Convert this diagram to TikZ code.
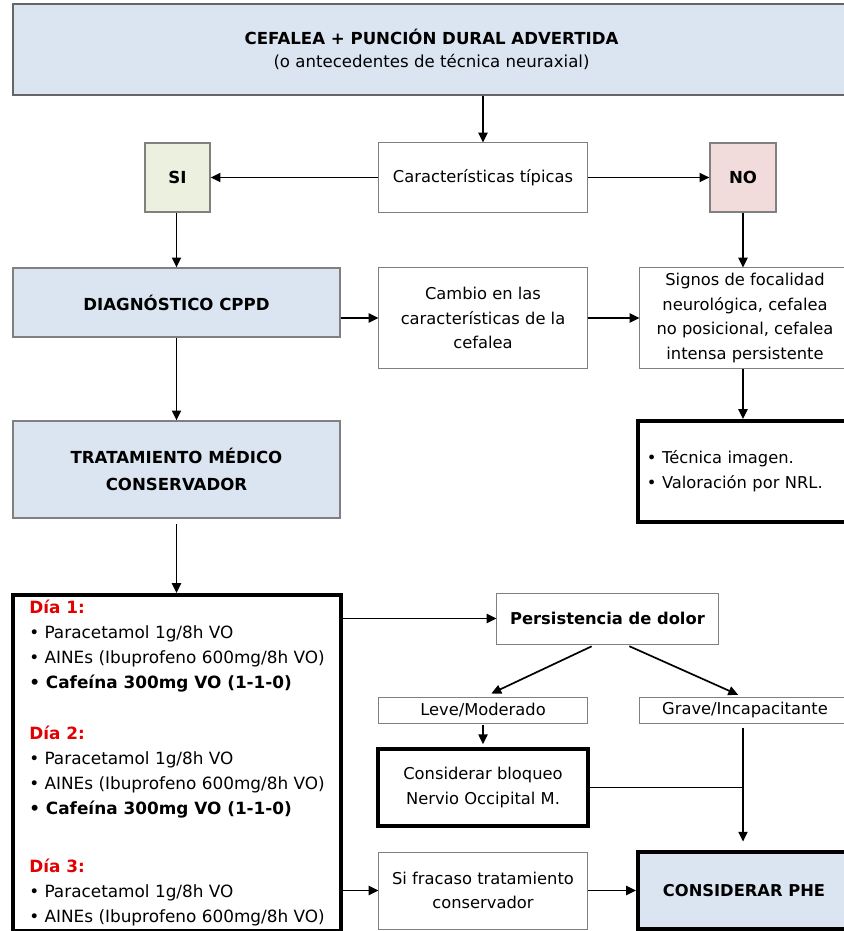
\documentclass[tikz,border=0pt]{standalone}
\usepackage{fontspec}
\setmainfont{DejaVu Sans}
\usetikzlibrary{arrows.meta,positioning,calc}

\definecolor{boxblue}{HTML}{DBE5F1}
\definecolor{sigreen}{HTML}{EBF1DE}
\definecolor{nopink}{HTML}{F2DCDB}
\definecolor{diared}{HTML}{E30000}
\newcommand{\diahead}[1]{\textcolor{diared}{\bfseries #1}}

\begin{document}
\begin{tikzpicture}[x=0.025cm, y=-0.025cm,
  every node/.style={inner sep=1pt},
  txt/.style={font=\fontsize{11.6}{17.6}\selectfont},
  bluebox/.style={draw=gray, line width=0.9pt, fill=boxblue, align=center,
                  font=\bfseries\fontsize{11.8}{19}\selectfont},
  plainbox/.style={draw=gray, line width=0.7pt, fill=white, align=center, txt},
  heavybox/.style={draw=black, line width=2.8pt, fill=white},
  ar/.style={-{Triangle[length=7pt,width=6.5pt]}, line width=1.2pt},
  ln/.style={line width=1.2pt}]

\useasboundingbox (0,0) rectangle (843,931);

%% --- top ---
\node[bluebox, draw=gray!80!black, line width=1.3pt, font=\bfseries\fontsize{11.8}{16}\selectfont,
      minimum width=20.925cm, minimum height=2.275cm]
  (cefalea) at (431.5,49.5) {CEFALEA + PUNCIÓN DURAL ADVERTIDA\\\mdseries (o antecedentes de técnica neuraxial)};

%% --- row: SI / caracteristicas / NO ---
\node[plainbox, minimum width=5.2cm, minimum height=1.725cm] (caract) at (483,177.5) {Características típicas};
\node[bluebox, fill=sigreen, minimum width=1.625cm, minimum height=1.725cm] (si) at (177.5,177.5) {SI};
\node[bluebox, fill=nopink, minimum width=1.65cm, minimum height=1.725cm] (no) at (743,177.5) {NO};

%% --- row: diagnostico / cambio / signos ---
\node[bluebox, minimum width=8.175cm, minimum height=1.725cm] (diag) at (176.5,302.5) {DIAGNÓSTICO CPPD};
\node[plainbox, minimum width=5.2cm, minimum height=2.5cm] (cambio) at (483,318)
  {Cambio en las\\características de la\\cefalea};
\node[plainbox, minimum width=5.25cm, minimum height=2.5cm] (signos) at (745,318)
  {Signos de focalidad\\neurológica, cefalea\\no posicional, cefalea\\intensa persistente};

%% --- row: tratamiento / tecnica ---
\node[bluebox, minimum width=8.175cm, minimum height=2.425cm] (trat) at (176.5,469.5)
  {TRATAMIENTO MÉDICO\\CONSERVADOR};
\node[heavybox, txt, text width=4.85cm, align=left, minimum width=5.3cm, minimum height=2.525cm] (tecnica) at (744,471.5)
  {• Técnica imagen.\\• Valoración por NRL.};

%% --- pauta por dias ---
\node[heavybox, font=\fontsize{12}{17.8}\selectfont, align=left, minimum width=8.2cm, minimum height=8.4cm]
  (dias) at (177,763)
  {\diahead{Día 1:}\\
   • Paracetamol 1g/8h VO\\
   • AINEs (Ibuprofeno 600mg/8h VO)\\
   \textbf{• Cafeína 300mg VO (1-1-0)}\\[0.65cm]
   \diahead{Día 2:}\\
   • Paracetamol 1g/8h VO\\
   • AINEs (Ibuprofeno 600mg/8h VO)\\
   \textbf{• Cafeína 300mg VO (1-1-0)}\\[0.82cm]
   \diahead{Día 3:}\\
   • Paracetamol 1g/8h VO\\
   • AINEs (Ibuprofeno 600mg/8h VO)};

%% --- persistencia ---
\node[plainbox, font=\bfseries\fontsize{11.6}{17.6}\selectfont, minimum width=5.525cm, minimum height=1.275cm]
  (persist) at (607.5,618.5) {Persistencia de dolor};
\node[plainbox, minimum width=5.2cm, minimum height=0.65cm] (leve) at (483,710) {Leve/Moderado};
\node[plainbox, minimum width=5.25cm, minimum height=0.65cm] (grave) at (745,710) {Grave/Incapacitante};
\node[heavybox, txt, align=center, minimum width=5.25cm, minimum height=1.925cm] (bloqueo) at (483,787.5)
  {Considerar bloqueo\\Nervio Occipital M.};
\node[plainbox, minimum width=5.2cm, minimum height=1.925cm] (fracaso) at (483,890.5)
  {Si fracaso tratamiento\\conservador};
\node[heavybox, fill=boxblue, font=\bfseries\fontsize{11.6}{17.6}\selectfont, minimum width=5.3cm, minimum height=1.925cm]
  (phe) at (744,890.5) {CONSIDERAR PHE};

%% --- arrows: top part ---
\draw[ar] (caract.north |- cefalea.south) -- (caract.north);
\draw[ar] (caract.west) -- (si.east);
\draw[ar] (caract.east) -- (no.west);
\draw[ar] (si.south -| diag.north) -- (diag.north);
\draw[ar] (no.south) -- (no.south |- signos.north);
\draw[ar] (cambio.west -| diag.east) -- (cambio.west);
\draw[ar] (cambio.east) -- (signos.west);
\draw[ar] (diag) -- (trat);
\draw[ar] (no.south |- signos.south) -- (no.south |- tecnica.north);
\draw[ar, shorten <=4pt] (trat.south) -- (trat.south |- dias.north);

%% --- arrows: bottom part ---
\draw[ar] (persist.west -| dias.east) -- (persist.west);
\draw[ar, shorten <=3pt, shorten >=5pt] ([xshift=-0.3cm]persist.south) -- ([xshift=0.05cm]leve.north);
\draw[ar, shorten <=3pt, shorten >=3pt] ([xshift=0.45cm]persist.south) -- ([xshift=-0.075cm]grave.north);
\draw[ar, shorten <=1pt, shorten >=2pt] (leve.south) -- (bloqueo.north);
\draw[ar, shorten <=3pt, shorten >=6pt] (grave.south -| no.south) -- (phe.north -| no.south);
\draw[ln] (bloqueo.east) -- (bloqueo.east -| no.south);
\draw[ar] (fracaso.west -| dias.east) -- (fracaso.west);
\draw[ar] (fracaso.east) -- (phe.west);
\end{tikzpicture}
\end{document}
